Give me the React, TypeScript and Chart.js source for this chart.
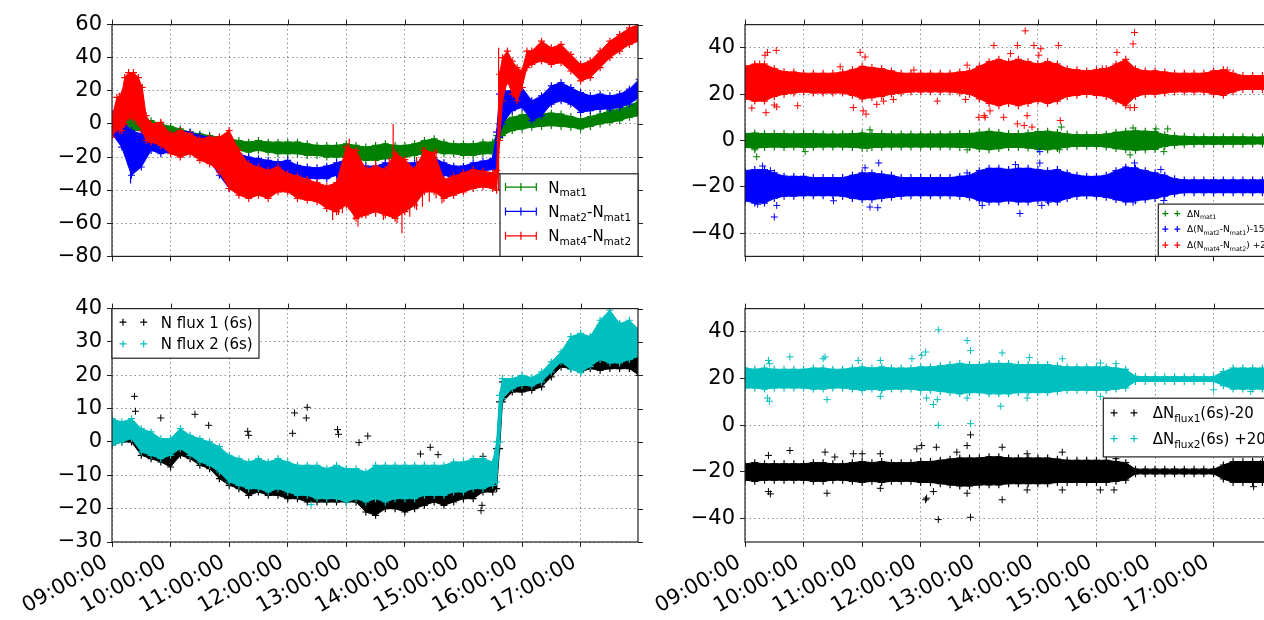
import React, { useEffect, useRef } from 'react';
import { Chart, registerables } from 'chart.js';

Chart.register(...registerables);

const FONT = '"DejaVu Sans", "Liberation Sans", sans-serif';
const TICK_SIZE = 21;

// ---------- axes / ticks ----------
const HOUR_TICKS = [9, 10, 11, 12, 13, 14, 15, 16, 17];
const TL_Y_TICKS = [-80, -60, -40, -20, 0, 20, 40, 60];
const BL_Y_TICKS = [-30, -20, -10, 0, 10, 20, 30, 40];
const R_Y_TICKS = [-40, -20, 0, 20, 40];

// ---------- time grids (minutes after 09:00) ----------
const T_LEFT = [0, 10, 20, 30, 40, 50, 60, 70, 80, 90, 100, 110, 120, 130, 140, 150, 160, 170, 180, 190, 200, 210, 220, 230, 240, 250, 260, 270, 280, 290, 300, 310, 320, 330, 340, 350, 360, 370, 380, 390, 394, 397, 400, 410, 420, 430, 440, 450, 460, 470, 480, 490, 500, 510, 520, 530, 540];
const T_RIGHT = [0, 10, 20, 30, 40, 50, 60, 70, 80, 90, 100, 110, 120, 130, 140, 150, 160, 170, 180, 190, 200, 210, 220, 230, 240, 250, 260, 270, 280, 290, 300, 310, 320, 330, 340, 350, 360, 370, 380, 390, 400, 410, 420, 430, 440, 450, 460, 470, 480, 490, 500, 510, 520, 530, 540];
const RED_T = [0, 5, 10, 13, 17, 22, 27, 31, 35, 40, 50, 60, 70, 80, 90, 100, 110, 120, 130, 140, 150, 160, 170, 180, 190, 200, 210, 220, 230, 240, 250, 260, 270, 280, 290, 300, 310, 320, 330, 340, 350, 360, 370, 380, 390, 394, 397, 400, 405, 410, 415, 420, 425, 430, 440, 450, 460, 470, 480, 490, 500, 510, 520, 530, 540];

// ---------- top-left: Nmat bands (upper / lower envelope) ----------
const NMAT1_HI = [3, 4, 5, 3, 2, 0, -1.5, -3, -5, -6, -7, -8, -9, -10, -11, -10, -11, -11, -11, -11, -12, -13, -13, -13, -12, -13, -14, -13, -12, -13, -13, -12, -10, -9, -11, -12, -12, -12, -11, -11, -7, 0, 2, 4, 5.5, 6, 6, 6.5, 6, 4.5, 3, 4.5, 6, 8, 9, 11, 14];
const NMAT1_LO = [-5, -5, -4, -4, -5, -6, -7, -9, -10, -11, -13, -14, -15, -16, -17, -16, -17, -18, -18, -18, -19, -19, -20, -20, -20, -21, -22, -22, -21, -21, -20, -19, -18, -17, -18, -18, -19, -19, -18, -18, -17, -10, -7, -4, -3, -2, -1.5, -1, -1.5, -2, -3, -1.5, 0, 1, 2, 4, 5];
const NMAT21_HI = [6, 2, -4, -6, -7, -8, -6, -4, -5, -7, -8, -10, -14, -18, -20, -21, -22, -23, -22, -25, -26, -26.5, -25.5, -23.5, -21.5, -23.5, -25.5, -25.5, -23.5, -25.5, -23.5, -23.5, -21.5, -20.5, -23.5, -25.5, -25.5, -23.5, -22.5, -21, -5, 18, 20, 20, 22, 14, 17, 23, 25, 22, 19, 17, 18, 17, 18, 21, 27];
const NMAT21_LO = [-6, -14, -31, -26, -16, -18, -17, -15, -16, -17, -22, -31, -39, -33, -28, -29, -30, -30, -30, -31, -33, -33, -33, -31, -41, -37, -37, -39, -37, -41, -37, -33, -31, -31, -31, -32.5, -31, -30.5, -28.5, -27.5, -30, -8, 0, 8, 10, 2, 5, 12, 14, 12, 7, 8, 9, 9, 10, 12, 16];
const NMAT42_HI = [4, 16, 18, 28, 31, 31, 28, 22, 5, 0, 1, -6, -4, -6, -9, -8, -8, -4, -16, -24, -26, -28, -26, -30, -31.5, -33.5, -35.5, -37.5, -35.5, -14, -16, -27.5, -25.5, -27.5, -17.6, -21.5, -27.5, -16, -17.6, -33.5, -31.5, -29.5, -27.5, -28.5, -29.5, -28, 30, 40, 44, 38, 34, 32, 44, 44, 50, 46, 48, 42, 36, 38, 44, 50, 54, 58, 60];
const NMAT42_LO = [-8, -3, -4, 0, 4, 3, 0, -4, -10, -11, -13, -18, -20, -18, -22, -24, -29, -39, -43, -45, -43, -45, -41, -41, -45, -46, -47, -51, -53, -49, -57, -55, -53, -55, -57, -53, -49, -41, -41, -45, -43, -41, -39, -38, -39, -40, -10, 14, 26, 18, 14, 22, 34, 36, 38, 36, 37, 32, 26, 28, 34, 40, 44, 48, 50];
// error-bar spikes: [minute, low, high]
const NMAT42_SPIKES = [[8, -6, 19], [120, -40, -3], [226, -58, -40], [232, -55, -30], [236, -54, -28], [243, -52, -9], [248, -58, -20], [252, -62, -45], [256, -57, -30], [262, -55, -25], [270, -56, -22], [278, -58, -30], [284, -55, -20], [288, -50, 0], [292, -60, -22], [297, -66, -45], [305, -56, -25], [312, -52, -20], [318, -50, -14], [325, -47, -18], [332, -45, -15], [338, -48, -30], [396, -40, 46]];
const NMAT21_SPIKES = [[19, -36, -20]];

// ---------- bottom-left: N flux ----------
const FLUX1_HI = [6, 5, 6, 3, 2, 0, 0, 3, 1, 0, -1, -3, -5, -6, -7, -7, -8, -7, -8, -9, -9, -9, -10, -9, -10, -10, -11, -10, -10, -10, -10, -10, -9, -9, -9, -8, -8, -8, -7, -8, -2, 12, 18, 18, 19, 18.5, 20, 23, 26, 30, 31, 31, 35, 37, 35, 35, 34];
const FLUX1_LO = [-1, 0, 0, -4, -5, -6, -7.5, -4, -5, -7, -8, -11, -13, -14, -16, -15, -16, -16, -17, -17, -18, -18, -18, -18, -18, -18, -21, -22, -20, -20, -21, -20, -19, -18, -19, -18, -17, -17, -15, -15, -14, -2, 12, 15, 15, 15.5, 16.5, 19.5, 22.5, 22, 21, 22, 21.5, 22, 22, 22, 20];
const FLUX2_HI = [7, 6, 7, 4, 3, 1, 1, 4, 2, 1, 0, -1.4, -4, -5, -6, -5, -6, -5, -6, -7, -7, -7, -8, -7, -8, -8, -9, -7, -7, -7, -7, -7, -7, -7, -7, -6, -6, -5, -5, -6, 0, 14, 19, 19, 20, 19.3, 21, 24, 27, 31.6, 32.6, 31.6, 36.5, 39.5, 35.5, 36.5, 33.6];
const FLUX2_LO = [-1, 0, 1, -3, -4, -5, -4, -2, -4, -6, -7, -9, -12, -13, -14, -14, -15, -14, -15, -16, -16, -17, -17, -17, -18, -17, -18, -17, -18, -17, -17, -17, -16, -16, -16, -15, -15, -14, -14, -13, -12, 0, 13, 16, 17, 16.8, 18, 21, 24, 21.8, 20.8, 22.7, 24.7, 23.7, 23.7, 24.7, 25.7];
const FLUX1_OUT = [[23, 13.7], [24, 9.2], [50, 7.2], [85, 8.3], [99, 5], [139, 3.2], [140, 2], [185, 2.6], [187, 8.7], [199, 7.2], [200, 10.4], [231, 3.7], [232, 2.3], [253, -0.2], [262, 1.8], [316, -3.6], [326, -1.6], [334, -3.8], [378, -20.6], [379, -19], [380, -4.3]];
const FLUX2_OUT = [[204, -18.8]];

// ---------- top-right: residuals ----------
const DNMAT1_HI = [3, 3.2, 3, 3, 3, 2.8, 3, 3, 2.8, 2.8, 2.8, 3, 3.2, 3, 3, 2.8, 2.8, 2.8, 2.8, 2.8, 2.8, 2.8, 3, 3, 3.5, 4, 3.5, 3, 3, 3.2, 3.8, 4, 3.5, 2.8, 2.5, 2.5, 2.5, 2.8, 3.5, 4, 4.2, 4, 3.8, 2.5, 2, 1.8, 1.6, 1.6, 1.6, 1.6, 1.6, 1.6, 1.5, 1.5, 1.5];
const DNMAT1_LO = [-3, -3.3, -3, -2.8, -3, -2.8, -3, -2.9, -2.8, -2.8, -2.8, -3, -3.2, -3, -2.9, -2.8, -2.8, -2.8, -2.8, -2.8, -2.8, -2.8, -3, -3, -3.6, -4, -3.5, -3, -3, -3.2, -3.8, -4, -3.5, -2.8, -2.5, -2.5, -2.5, -2.8, -3.5, -4, -4.2, -4, -3.8, -2.5, -2, -1.8, -1.6, -1.6, -1.6, -1.6, -1.6, -1.6, -1.5, -1.5, -1.5];
const DNMAT21_HI = [-13, -12.5, -12.5, -14, -15.4, -15.5, -15.5, -16, -16, -16, -16, -15, -14, -14, -14.5, -15, -16, -16, -16, -16, -16, -16, -15.5, -15, -13, -12, -12, -12.5, -12, -12, -12.5, -13, -12.5, -14, -15, -15.5, -15.5, -15, -13, -11.5, -12, -13, -14, -15, -16.5, -17, -17, -17, -17, -17, -17, -17, -17, -17, -17];
const DNMAT21_LO = [-26, -27, -27, -25, -24, -24, -23.8, -23.8, -23.8, -23.8, -24, -25, -25.5, -25.5, -25, -24.5, -24, -23.8, -23.8, -23.8, -23.8, -23.8, -24, -24.5, -26, -26.5, -26.5, -26, -26.5, -26.5, -26, -26, -26.5, -25, -24, -23.8, -24, -24.5, -25.5, -26.5, -26, -25.5, -25, -24, -23, -22.5, -22.5, -22.5, -22.5, -22.5, -22.5, -22.5, -22.5, -22.5, -22.5];
const DNMAT42_HI = [32, 33, 33, 31, 29.7, 29.5, 29, 29, 29, 29, 29.5, 30.5, 32, 31.5, 31, 30, 29, 29, 29, 29, 29, 29, 29.5, 30, 32, 34, 35, 34, 35, 34, 33, 34, 33, 31, 30.5, 30, 30.5, 31, 33, 35, 31, 30, 30, 29.5, 29, 29, 29, 29, 30, 30.5, 29, 28, 28, 28, 28];
const DNMAT42_LO = [18, 17, 17, 19, 20, 20.5, 21, 20.5, 20.5, 20.5, 20.5, 19.5, 18, 18.5, 19, 20, 20.5, 21, 21, 21, 21, 21, 20.5, 20, 18, 16, 15, 16, 15, 16, 17, 16, 17, 19, 19.5, 20, 19.5, 19, 17, 15, 19, 20, 20, 20.5, 21, 21, 21, 21, 20, 19.5, 21, 22, 22, 22, 22];
const DNMAT1_OUT = [[10, -4], [12, -7], [61.6, -4.8], [128, 4.6], [125, -3.4], [227.5, -4], [324, 5.8], [322, -4], [397.5, 5.4], [394.5, -6.2], [421, 5], [433, 5], [429, -4.8]];
const DNMAT21_OUT = [[30, -33], [18, -11], [26, -13], [13, -27.5], [32.5, -28], [123, -11.8], [128, -28.7], [137, -9.7], [136, -29], [90.7, -26], [227.5, -14], [281.6, -31.5], [302, -4.8], [302, -9.7], [304, -28], [277, -10.4], [399, -9.7], [399, -11.8], [397.5, -26.6], [426, -12.5], [429, -25.9], [243, -28], [311, -26.6]];
const DNMAT42_OUT = [[20.5, 36.8], [23, 38], [32, 38.9], [15, 33], [10, 32.5], [7, 14], [21.5, 12], [30, 15.3], [32.5, 14.5], [54, 15], [118, 38], [123, 36], [121, 12.8], [124, 11.4], [111, 14.2], [135, 15.6], [142, 17], [152, 17.7], [197, 17], [226, 17.7], [227.5, 32.5], [239.5, 10], [97.5, 31.8], [173, 30.4], [287, 47.3], [279, 41], [255, 41], [296, 41], [321, 41], [301, 36.8], [245, 10.7], [246, 10], [289, 10.7], [294, 5.8], [279, 7.2], [286, 6.5], [323, 8.6], [399, 46.6], [397.5, 41.7], [399, 14.2], [394.5, 14.2], [366, 31], [494, 30.4], [381, 38], [251, 12.8], [265, 10], [272, 37.5], [303, 39.6]];

// ---------- bottom-right: flux residuals ----------
const DFLUX2_HI = [24.5, 24, 24.5, 24, 24, 24, 24, 24.5, 24.5, 24, 24, 24.5, 25, 24.5, 25, 24.5, 24.5, 24.5, 25, 25, 25.5, 26, 26.5, 26, 26, 26.5, 26.5, 26.5, 26, 26, 26, 26, 25.5, 25, 25, 25, 25, 25, 24.5, 24, 21, 20.8, 20.8, 20.8, 20.8, 20.8, 20.8, 20.8, 20.8, 23, 24.5, 24.5, 24.5, 24.5, 24.5];
const DFLUX2_LO = [16, 16, 15.5, 16, 16, 16, 16, 15.5, 15.5, 16, 16, 15.5, 15, 15.5, 15, 15.5, 15.5, 15.5, 15, 15, 14.5, 14, 13.5, 14, 14, 13.5, 13.5, 13.5, 14, 14, 14, 14, 14.5, 15, 15, 15, 15, 15, 15.5, 16, 18.8, 18.8, 18.8, 18.8, 18.8, 18.8, 18.8, 18.8, 18.8, 17, 15.5, 15.5, 15.5, 15.5, 15.5];
const DFLUX1_HI = [-16.5, -16, -16.5, -16.5, -16.5, -16.5, -16.5, -16, -16, -16.5, -16.5, -16, -15.5, -16, -15.5, -16, -16, -16, -15.5, -15.5, -15, -14.5, -14, -14, -14, -13.5, -13.5, -14, -14, -14, -14, -14, -14.5, -15, -15, -15, -15, -15, -15.5, -16, -18.8, -18.8, -18.8, -18.8, -18.8, -18.8, -18.8, -18.8, -18.8, -17, -15.5, -15.5, -15.5, -15.5, -15.5];
const DFLUX1_LO = [-23.5, -24, -23.5, -23.5, -23.5, -23.5, -23.5, -24, -24, -23.5, -23.5, -24, -24.5, -24, -24.5, -24, -24, -24, -24.5, -24.5, -25, -25.5, -26, -26, -25.5, -25.5, -25.5, -25, -25, -25, -25, -25, -24.5, -24.5, -24.5, -24.5, -24.5, -24.5, -24, -23.5, -20.8, -20.8, -20.8, -20.8, -20.8, -20.8, -20.8, -20.8, -20.8, -23, -24.5, -24.5, -24.5, -24.5, -24.5];
const DFLUX2_OUT = [[24, 27.8], [25, 26.4], [23, 11.7], [25, 10.3], [46, 29.3], [82, 29.3], [84, 11], [80, 28.5], [116, 27.8], [138.6, 27.8], [138.6, 12.4], [181, 30], [185, 31.4], [198, 40.9], [198, 0], [186, 11.7], [193, 8.9], [197, 11], [227.5, 36.3], [231, 32], [231, 0.7], [227.5, 11.7], [171, 28.5], [263.4, 31], [262, 8.2], [291.5, 29], [289, 11.7], [325, 28.5], [364, 26.7], [380, 26.4], [364, 12.4], [378, 8.2], [250, 25.7], [480, 15.2], [518, 14.5]];
const DFLUX1_OUT = [[24, -12.9], [24, -28.4], [26, -29.4], [46, -10.8], [82, -11.5], [84, -29.1], [92, -13.6], [111, -12.2], [120, -12.2], [138.6, -12.2], [138.6, -27], [176, -10.1], [181, -8.7], [196, -9.4], [198, -40.4], [186, -31.2], [185, -31.9], [193, -28.4], [227.5, -8.7], [231, -4.1], [231, -39.4], [227.5, -29.1], [217, -11.5], [263.4, -9.4], [263.4, -31.9], [289, -27.7], [289, -12.2], [325, -11.5], [325, -27.7], [364, -27.7], [380, -14.3], [378, -27.7], [521, -26.3], [528, -16.5]];

// ---------- legend labels ([text, isSubscript]) ----------
const TL_LABELS = [
  [['N', 0], ['mat1', 1]],
  [['N', 0], ['mat2', 1], ['-N', 0], ['mat1', 1]],
  [['N', 0], ['mat4', 1], ['-N', 0], ['mat2', 1]],
];
const TR_LABELS = [
  [['\u0394N', 0], ['mat1', 1]],
  [['\u0394(N', 0], ['mat2', 1], ['-N', 0], ['mat1', 1], [')-15', 0]],
  [['\u0394(N', 0], ['mat4', 1], ['-N', 0], ['mat2', 1], [') +25', 0]],
];
const BL_LABELS = [[['N flux 1 (6s)', 0]], [['N flux 2 (6s)', 0]]];
const BR_LABELS = [
  [['\u0394N', 0], ['flux1', 1], ['(6s)-20', 0]],
  [['\u0394N', 0], ['flux2', 1], ['(6s) +20', 0]],
];

const GREEN = '#008000';
const BLUE = '#0000ff';
const RED = '#ff0000';
const CYAN = '#00bfbf';
const BLACK = '#000000';

// ---------- helpers ----------
const hourOf = (m: number) => 9 + m / 60;
const pts = (T: number[], V: number[]) => T.map((m, i) => ({ x: hourOf(m), y: V[i] }));

function band(T: number[], hi: number[], lo: number[], color: string, order: number) {
  const common = {
    type: 'line',
    borderColor: color,
    backgroundColor: color,
    borderWidth: 1,
    pointStyle: 'cross',
    pointRadius: 3.5,
    pointBorderWidth: 1.2,
    pointBorderColor: color,
    tension: 0,
    order,
  };
  return [
    { ...common, data: pts(T, lo), fill: false },
    { ...common, data: pts(T, hi), fill: '-1' },
  ];
}

function scatter(P: number[][], color: string, order: number) {
  return {
    type: 'line',
    showLine: false,
    data: P.map(([m, v]) => ({ x: hourOf(m), y: v })),
    pointStyle: 'cross',
    pointRadius: 3.5,
    pointBorderWidth: 1,
    pointBorderColor: color,
    backgroundColor: color,
    borderColor: color,
    order,
  };
}

function spikes(S: number[][], color: string, order: number) {
  const data: any[] = [];
  S.forEach(([m, lo, hi]) => {
    data.push({ x: hourOf(m), y: lo }, { x: hourOf(m), y: hi }, { x: hourOf(m), y: null });
  });
  return { type: 'line', data, borderColor: color, borderWidth: 1.2, pointRadius: 0, spanGaps: false, fill: false, order };
}

const fmtNum = (v: number) => (v < 0 ? '\u2212' + Math.abs(v) : String(v));
const fmtHour = (v: number) => String(v).padStart(2, '0') + ':00:00';

const framePlugin = {
  id: 'frame',
  afterDatasetsDraw(chart: any) {
    const { ctx, chartArea: a, scales } = chart;
    ctx.save();
    ctx.strokeStyle = '#222';
    ctx.lineWidth = 1.2;
    ctx.strokeRect(a.left, a.top, a.right - a.left, a.bottom - a.top);
    ctx.lineWidth = 1;
    ctx.beginPath();
    scales.y.ticks.forEach((t: any) => {
      const py = Math.round(scales.y.getPixelForValue(t.value)) + 0.5;
      ctx.moveTo(a.right, py);
      ctx.lineTo(a.right + 5, py);
    });
    scales.x.ticks.forEach((t: any) => {
      const px = Math.round(scales.x.getPixelForValue(t.value)) + 0.5;
      ctx.moveTo(px, a.top);
      ctx.lineTo(px, a.top - 5);
    });
    ctx.stroke();
    ctx.restore();
  },
};

function drawSegs(ctx: any, x: number, yBase: number, segs: any[], size: number) {
  let cx = x;
  segs.forEach(([t, sub]) => {
    const fs = sub ? size * 0.7 : size;
    ctx.font = `${fs}px ${FONT}`;
    ctx.fillText(t, cx, yBase + (sub ? size * 0.25 : 0));
    cx += ctx.measureText(t).width;
  });
}

function plus(ctx: any, x: number, y: number, r: number) {
  ctx.moveTo(x - r, y);
  ctx.lineTo(x + r, y);
  ctx.moveTo(x, y - r);
  ctx.lineTo(x, y + r);
}

function legendPlugin(spec: any) {
  return {
    id: 'customLegend',
    afterDraw(chart: any) {
      const { ctx, chartArea: a } = chart;
      const b = spec.box(a);
      ctx.save();
      ctx.fillStyle = '#fff';
      ctx.fillRect(b.x, b.y, b.w, b.h);
      ctx.strokeStyle = '#222';
      ctx.lineWidth = 1.2;
      ctx.strokeRect(b.x, b.y, b.w, b.h);
      spec.labels.forEach((segs: any[], i: number) => {
        const y = b.y + spec.rows[i];
        ctx.strokeStyle = spec.colors[i];
        ctx.lineWidth = 1.2;
        ctx.beginPath();
        if (spec.glyph === 'errbar') {
          const x1 = b.x + spec.gx[0];
          const x2 = b.x + spec.gx[1];
          ctx.moveTo(x1, y);
          ctx.lineTo(x2, y);
          ctx.moveTo(x1, y - 4);
          ctx.lineTo(x1, y + 4);
          ctx.moveTo(x2, y - 4);
          ctx.lineTo(x2, y + 4);
          plus(ctx, (x1 + x2) / 2, y, 4);
        } else {
          plus(ctx, b.x + spec.gx[0], y, spec.mr);
          plus(ctx, b.x + spec.gx[1], y, spec.mr);
        }
        ctx.stroke();
        ctx.fillStyle = '#000';
        ctx.textBaseline = 'alphabetic';
        drawSegs(ctx, b.x + spec.textX, y + spec.size * 0.36, segs, spec.size);
      });
      ctx.restore();
    },
  };
}

function makeConfig(o: any) {
  const grid = {
    color: 'rgba(0,0,0,0.55)',
    lineWidth: 0.8,
    drawTicks: true,
    tickLength: 5,
    tickColor: '#222',
    tickWidth: 1,
    offset: false,
  };
  return {
    type: 'line',
    data: { datasets: o.datasets },
    options: {
      responsive: false,
      maintainAspectRatio: false,
      animation: false,
      events: [],
      layout: { padding: { top: 15, right: 10, left: 0, bottom: 0 } },
      plugins: { legend: { display: false }, tooltip: { enabled: false } },
      scales: {
        x: {
          type: 'linear',
          min: 9,
          max: 17.98,
          offset: false,
          afterBuildTicks: (s: any) => {
            s.ticks = HOUR_TICKS.map((v) => ({ value: v }));
          },
          afterFit: (s: any) => {
            s.height = o.XH;
          },
          ticks: {
            display: o.xLabels,
            autoSkip: false,
            minRotation: 30,
            maxRotation: 30,
            padding: 3,
            labelOffset: -6,
            color: '#000',
            font: { family: FONT, size: TICK_SIZE },
            callback: (v: number) => fmtHour(v),
          },
          grid,
          border: { display: false, dash: [1.5, 3] },
        },
        y: {
          type: 'linear',
          min: o.yMin,
          max: o.yMax,
          beginAtZero: false,
          afterBuildTicks: (s: any) => {
            s.ticks = o.yTicks.map((v: number) => ({ value: v }));
          },
          afterFit: (s: any) => {
            s.width = o.YW;
          },
          ticks: {
            padding: 5,
            color: '#000',
            font: { family: FONT, size: TICK_SIZE },
            callback: (v: number) => fmtNum(v),
          },
          grid,
          border: { display: false, dash: [1.5, 3] },
        },
      },
    },
    plugins: [framePlugin, legendPlugin(o.legend)],
  };
}

function ChartBox({ left, top, width, height, build }: any) {
  const ref = useRef<HTMLCanvasElement | null>(null);
  useEffect(() => {
    const chart = new Chart(ref.current as HTMLCanvasElement, build() as any);
    return () => chart.destroy();
  }, []);
  return (
    <canvas
      ref={ref}
      width={width}
      height={height}
      style={{ position: 'absolute', left, top, width, height }}
    />
  );
}

const buildTL = () =>
  makeConfig({
    yMin: -80,
    yMax: 60,
    yTicks: TL_Y_TICKS,
    xLabels: false,
    YW: 112,
    XH: 16,
    datasets: [
      ...band(T_LEFT, NMAT1_HI, NMAT1_LO, GREEN, 3),
      ...band(T_LEFT, NMAT21_HI, NMAT21_LO, BLUE, 2),
      spikes(NMAT21_SPIKES, BLUE, 2),
      ...band(RED_T, NMAT42_HI, NMAT42_LO, RED, 1),
      spikes(NMAT42_SPIKES, RED, 1),
    ],
    legend: {
      box: (a: any) => ({ x: a.right - 138, y: a.bottom - 82.6, w: 138, h: 82.6 }),
      rows: [13.3, 37.6, 62],
      gx: [5.5, 36.3],
      textX: 48.3,
      size: 15,
      glyph: 'errbar',
      colors: [GREEN, BLUE, RED],
      labels: TL_LABELS,
    },
  });

const buildBL = () =>
  makeConfig({
    yMin: -30,
    yMax: 40,
    yTicks: BL_Y_TICKS,
    xLabels: true,
    YW: 112,
    XH: 78,
    datasets: [
      ...band(T_LEFT, FLUX1_HI, FLUX1_LO, BLACK, 2),
      scatter(FLUX1_OUT, BLACK, 2),
      ...band(T_LEFT, FLUX2_HI, FLUX2_LO, CYAN, 1),
      scatter(FLUX2_OUT, CYAN, 1),
    ],
    legend: {
      box: (a: any) => ({ x: a.left, y: a.top, w: 147, h: 49.6 }),
      rows: [13.6, 35.3],
      gx: [11, 31.7],
      mr: 3.5,
      textX: 48.7,
      size: 15,
      glyph: 'plus',
      colors: [BLACK, CYAN],
      labels: BL_LABELS,
    },
  });

const buildTR = () =>
  makeConfig({
    yMin: -50,
    yMax: 50,
    yTicks: R_Y_TICKS,
    xLabels: false,
    YW: 100,
    XH: 16,
    datasets: [
      ...band(T_RIGHT, DNMAT1_HI, DNMAT1_LO, GREEN, 3),
      scatter(DNMAT1_OUT, GREEN, 3),
      ...band(T_RIGHT, DNMAT21_HI, DNMAT21_LO, BLUE, 2),
      scatter(DNMAT21_OUT, BLUE, 2),
      ...band(T_RIGHT, DNMAT42_HI, DNMAT42_LO, RED, 1),
      scatter(DNMAT42_OUT, RED, 1),
    ],
    legend: {
      box: (a: any) => ({ x: a.left + 413.3, y: a.bottom - 52.3, w: 200, h: 52.3 }),
      rows: [9.5, 25, 41],
      gx: [7, 19],
      mr: 3,
      textX: 28.7,
      size: 9,
      glyph: 'plus',
      colors: [GREEN, BLUE, RED],
      labels: TR_LABELS,
    },
  });

const buildBR = () =>
  makeConfig({
    yMin: -50,
    yMax: 50,
    yTicks: R_Y_TICKS,
    xLabels: true,
    YW: 100,
    XH: 78,
    datasets: [
      ...band(T_RIGHT, DFLUX1_HI, DFLUX1_LO, BLACK, 2),
      scatter(DFLUX1_OUT, BLACK, 2),
      ...band(T_RIGHT, DFLUX2_HI, DFLUX2_LO, CYAN, 1),
      scatter(DFLUX2_OUT, CYAN, 1),
    ],
    legend: {
      box: (a: any) => ({ x: a.left + 358.3, y: a.top + 89.6, w: 200, h: 58.7 }),
      rows: [14.7, 40.4],
      gx: [10.7, 30.7],
      mr: 3.5,
      textX: 49.4,
      size: 15,
      glyph: 'plus',
      colors: [BLACK, CYAN],
      labels: BR_LABELS,
    },
  });

export default function App() {
  return (
    <div
      style={{
        position: 'fixed',
        left: 0,
        top: 0,
        width: 1264,
        height: 620,
        overflow: 'hidden',
        background: '#fff',
      }}
    >
      <ChartBox left={0} top={7} width={648} height={267} build={buildTL} />
      <ChartBox left={645} top={7} width={636} height={267} build={buildTR} />
      <ChartBox left={0} top={291} width={648} height={329} build={buildBL} />
      <ChartBox left={645} top={291} width={636} height={329} build={buildBR} />
    </div>
  );
}
